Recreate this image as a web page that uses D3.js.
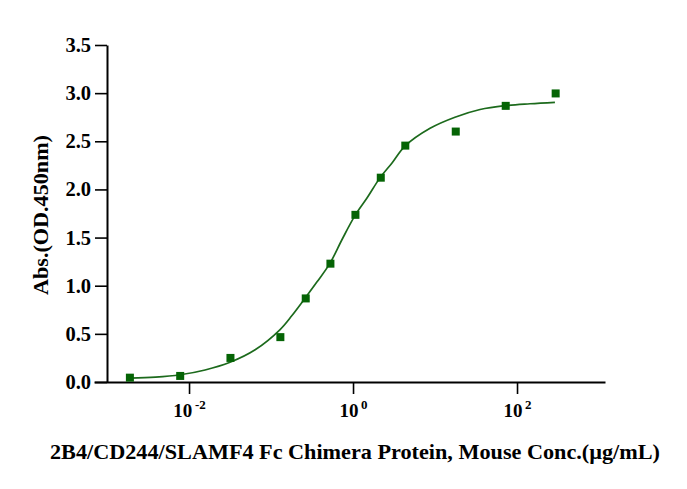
<!DOCTYPE html>
<html>
<head>
<meta charset="utf-8">
<script src="https://cdn.jsdelivr.net/npm/d3@7"></script>
<style>
  body { margin: 0; background: #fff; }
  svg text { font-family: "Liberation Serif", "Times New Roman", serif; font-weight: bold; }
</style>
</head>
<body>
<svg id="chart"></svg>
<script>
var width = 687,
    height = 489;

// measured points (conc. ug/mL, OD450)
var conc = [0.0019, 0.0078, 0.032, 0.13, 0.265, 0.53, 1.07, 2.18, 4.34, 17.9, 72.8, 296];
var absorb = [0.045, 0.063, 0.25, 0.466, 0.868, 1.229, 1.736, 2.122, 2.455, 2.601, 2.868, 2.997];

// fitted curve
var fitConc = [0.0019, 0.0039, 0.0078, 0.0157, 0.0316, 0.064, 0.129, 0.18, 0.26, 0.364, 0.525,
               0.735, 1.06, 1.48, 2.13, 2.99, 4.3, 8.7, 17.5, 35.4, 71.4, 144, 290];
var fitAbs = [0.040, 0.050, 0.075, 0.125, 0.205, 0.335, 0.545, 0.69, 0.87, 1.04, 1.235,
              1.48, 1.73, 1.91, 2.12, 2.275, 2.45, 2.635, 2.75, 2.83, 2.87, 2.89, 2.905];

var yTicks = [0, 0.5, 1.0, 1.5, 2.0, 2.5, 3.0, 3.5];
var xTicks = [1e-2, 1e0, 1e2];
var xExponents = ["-2", "0", "2"];

var svg =
  d3.select("#chart")
    .attr("width", width)
    .attr("height", height);

// scales
var xScale =
  d3.scaleLog()
    .domain([Math.pow(10, -3.159), Math.pow(10, 3.073)])
    .range([94, 605]);

var yScale =
  d3.scaleLinear()
    .domain([0, 3.5])
    .range([382, 45]);

var yAxisX = 107;

// x axis
var xAxis =
  svg.append("g")
    .attr("transform", `translate(0, ${yScale(0)})`)
    .call(
      d3.axisBottom(xScale)
        .tickValues(xTicks)
        .tickSize(12)
        .tickSizeOuter(0)
        .tickFormat("")
    );

xAxis.select(".domain").attr("stroke-width", 2);
xAxis.selectAll(".tick line").attr("stroke-width", 1.6);

xAxis.selectAll(".tick")
  .append("text")
    .attr("y", 35)
    .attr("fill", "#000")
    .attr("text-anchor", "middle")
    .style("font-size", "19px")
    .each(function(d, i) {
      var t = d3.select(this);
      t.append("tspan").text("10");
      t.append("tspan")
        .text("\u2009" + xExponents[i])
        .attr("dy", -8)
        .style("font-size", "13px");
    });

// y axis
var yAxis =
  svg.append("g")
    .attr("transform", `translate(${yAxisX}, 0)`)
    .call(
      d3.axisLeft(yScale)
        .tickValues(yTicks)
        .tickSize(12)
        .tickSizeOuter(0)
        .tickPadding(4)
        .tickFormat(d3.format(".1f"))
    );

yAxis.select(".domain").attr("stroke-width", 2);
yAxis.selectAll(".tick line").attr("stroke-width", 1.6);
yAxis.selectAll(".tick text")
    .attr("fill", "#000")
    .style("font-size", "20.5px");

// fitted curve
var line =
  d3.line()
    .x(d => xScale(d[0]))
    .y(d => yScale(d[1]))
    .curve(d3.curveCatmullRom);

svg.append("path")
    .datum(d3.zip(fitConc, fitAbs))
    .attr("d", line)
    .attr("fill", "none")
    .attr("stroke", "#1c6a1c")
    .attr("stroke-width", 1.7);

// points
var size = 8;
svg.append("g")
  .selectAll("rect")
  .data(d3.zip(conc, absorb))
  .enter()
  .append("rect")
    .attr("x", d => xScale(d[0]) - size / 2)
    .attr("y", d => yScale(d[1]) - size / 2)
    .attr("width", size)
    .attr("height", size)
    .attr("fill", "#056405");

// axis titles
svg.append("text")
    .text("Abs.(OD.450nm)")
    .attr("transform", "rotate(-90)")
    .attr("x", -215)
    .attr("y", 48)
    .attr("text-anchor", "middle")
    .attr("textLength", 160)
    .attr("lengthAdjust", "spacingAndGlyphs")
    .style("font-size", "21px");

svg.append("text")
    .text("2B4/CD244/SLAMF4 Fc Chimera Protein, Mouse Conc.(\u00b5g/mL)")
    .attr("x", 355)
    .attr("y", 459)
    .attr("text-anchor", "middle")
    .attr("textLength", 610)
    .attr("lengthAdjust", "spacingAndGlyphs")
    .style("font-size", "21px");
</script>
</body>
</html>
